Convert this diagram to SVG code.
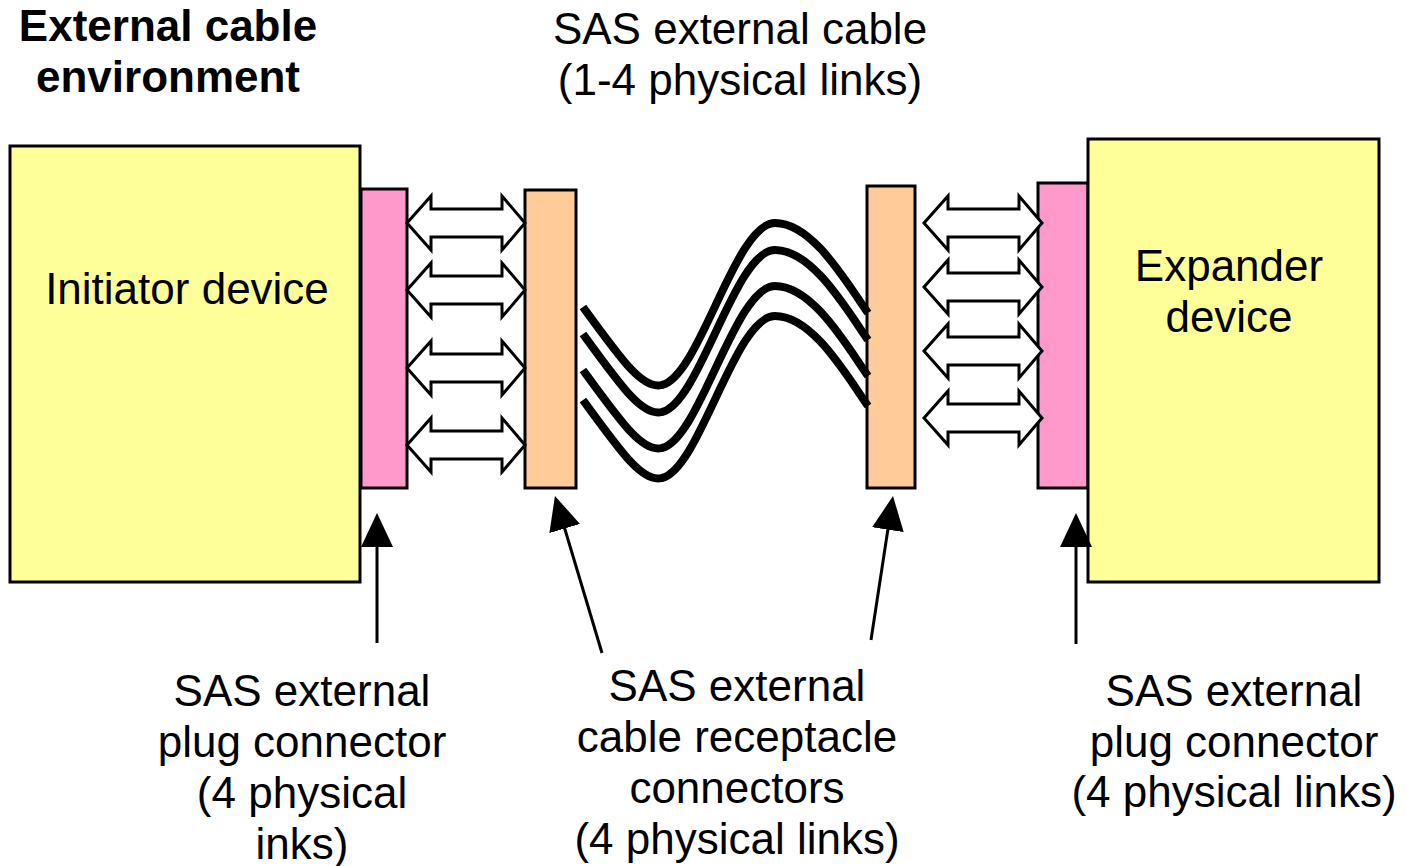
<svg xmlns="http://www.w3.org/2000/svg" width="1407" height="866" viewBox="0 0 1407 866">
<style>
text{font-family:"Liberation Sans",Arial,sans-serif;font-size:44px;fill:#000;text-anchor:middle}
.b{font-weight:bold}
.dev{fill:#FFFF99;stroke:#000;stroke-width:3}
.plug{fill:#FF99CC;stroke:#000;stroke-width:3}
.rec{fill:#FFCC99;stroke:#000;stroke-width:3}
.link{fill:#fff;stroke:#000;stroke-width:3;stroke-linejoin:miter}
.cable{fill:none;stroke:#000;stroke-width:8}
.ptr{stroke:#000;stroke-width:3;fill:none;marker-end:url(#ah)}
</style>
<defs>
<marker id="ah" markerUnits="userSpaceOnUse" viewBox="0 0 34 32" refX="30" refY="16" markerWidth="34" markerHeight="32" orient="auto"><path d="M0,0 L34,16 L0,32 Z" fill="#000"/></marker>
<path id="dbl" class="link" d="M0,0 L24,-27 L24,-14 L95,-14 L95,-27 L118,0 L95,27 L95,14 L24,14 L24,27 Z"/>
<path id="cab" class="cable" d="M583,307 C623,362 643,390 662,385 C700,376 735,223 775,223 C812,223 845,280 868,313"/>
</defs>
<text class="b" x="168" y="41">External cable</text>
<text class="b" x="168" y="92">environment</text>
<text x="740" y="44">SAS external cable</text>
<text x="740" y="95">(1-4 physical links)</text>
<g id="initiator"><rect class="dev" x="10" y="146" width="350" height="436"/><text x="187" y="304">Initiator device</text></g>
<g id="plugL"><rect class="plug" x="361" y="189" width="46" height="299"/></g>
<g id="recL"><rect class="rec" x="525" y="190" width="51" height="298"/></g>
<g id="recR"><rect class="rec" x="867" y="186" width="48" height="302"/></g>
<g id="plugR"><rect class="plug" x="1038" y="183" width="50" height="305"/></g>
<g id="expander"><rect class="dev" x="1088" y="139" width="291" height="443"/><text x="1229" y="281">Expander</text><text x="1229" y="332">device</text></g>
<g id="connectors">
<use href="#dbl" transform="translate(407,223)"/>
<use href="#dbl" transform="translate(407,290)"/>
<use href="#dbl" transform="translate(407,368)"/>
<use href="#dbl" transform="translate(407,445)"/>
<use href="#dbl" transform="translate(924,223)"/>
<use href="#dbl" transform="translate(924,287)"/>
<use href="#dbl" transform="translate(924,351)"/>
<use href="#dbl" transform="translate(924,418)"/>
<use href="#cab"/>
<use href="#cab" transform="translate(0,27)"/>
<use href="#cab" transform="translate(0,63)"/>
<use href="#cab" transform="translate(0,93)"/>
<line class="ptr" x1="377" y1="643" x2="377" y2="517"/>
<line class="ptr" x1="602" y1="653" x2="556.1" y2="499.8"/>
<line class="ptr" x1="871" y1="640" x2="892.4" y2="500"/>
<line class="ptr" x1="1076" y1="644" x2="1076" y2="517"/>
</g>
<g id="labelL"><text x="302" y="706">SAS external</text><text x="302" y="757">plug connector</text><text x="302" y="808">(4 physical</text><text x="302" y="859">inks)</text></g>
<g id="labelM"><text x="737" y="701">SAS external</text><text x="737" y="752">cable receptacle</text><text x="737" y="803">connectors</text><text x="737" y="854">(4 physical links)</text></g>
<g id="labelR"><text x="1234" y="706">SAS external</text><text x="1234" y="757">plug connector</text><text x="1234" y="807">(4 physical links)</text></g>
</svg>
